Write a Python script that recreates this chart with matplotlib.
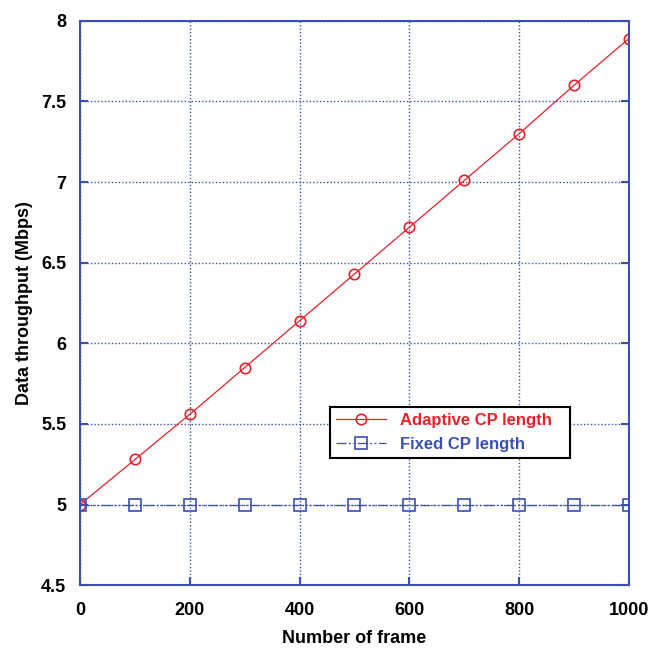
import matplotlib.pyplot as plt

frames = [0, 100, 200, 300, 400, 500, 600, 700, 800, 900, 1000]
adaptive = [5.0, 5.28, 5.56, 5.85, 6.14, 6.43, 6.72, 7.01, 7.30, 7.60, 7.89]
fixed = [5, 5, 5, 5, 5, 5, 5, 5, 5, 5, 5]

plt.rcParams['font.family'] = ['Liberation Sans', 'DejaVu Sans']
plt.rcParams['font.weight'] = 'bold'

blue = '#3a50b0'
red = '#e8202a'

fig = plt.figure(figsize=(6.51, 6.51), dpi=100)
ax = fig.add_axes([0.123, 0.101, 0.843, 0.867])

ax.plot(frames, adaptive, color=red, lw=0.9, marker='o', ms=7.5,
        mfc='none', mec=red, mew=1.2, label='Adaptive CP length')
ax.plot(frames, fixed, color=blue, lw=0.9, ls=(0, (8, 2, 1.5, 2, 1.5, 2)),
        marker='s', ms=8, mfc='none', mec=blue, mew=1.2,
        label='Fixed CP length')

ax.set_xlim(0, 1000)
ax.set_ylim(4.5, 8)
ax.set_xticks(range(0, 1001, 200))
ax.set_yticks([4.5, 5, 5.5, 6, 6.5, 7, 7.5, 8])
ax.set_yticklabels(['4.5', '5', '5.5', '6', '6.5', '7', '7.5', '8'])
ax.grid(True, color=blue, ls=(0, (1, 1.5)), lw=1)
for s in ax.spines.values():
    s.set_color(blue)
    s.set_linewidth(1.5)
ax.tick_params(direction='in', color=blue, length=6, width=1.5,
               labelsize=13, pad=10, top=False, right=True)
ax.tick_params(axis='x', pad=12)
ax.set_xlabel('Number of frame', fontsize=13, fontweight='bold', labelpad=8)
ax.set_ylabel('Data throughput (Mbps)', fontsize=13, fontweight='bold', labelpad=6)

leg = ax.legend(loc='lower left', bbox_to_anchor=(0.455, 0.225, 0.438, 0.115),
                mode='expand', fontsize=12, fancybox=False, framealpha=1,
                edgecolor='black', handlelength=3, borderaxespad=0)
leg.get_frame().set_linewidth(1.5)
for t, c in zip(leg.get_texts(), [red, blue]):
    t.set_color(c)
    t.set_fontweight('bold')

fig.savefig('out.png', dpi=100)
